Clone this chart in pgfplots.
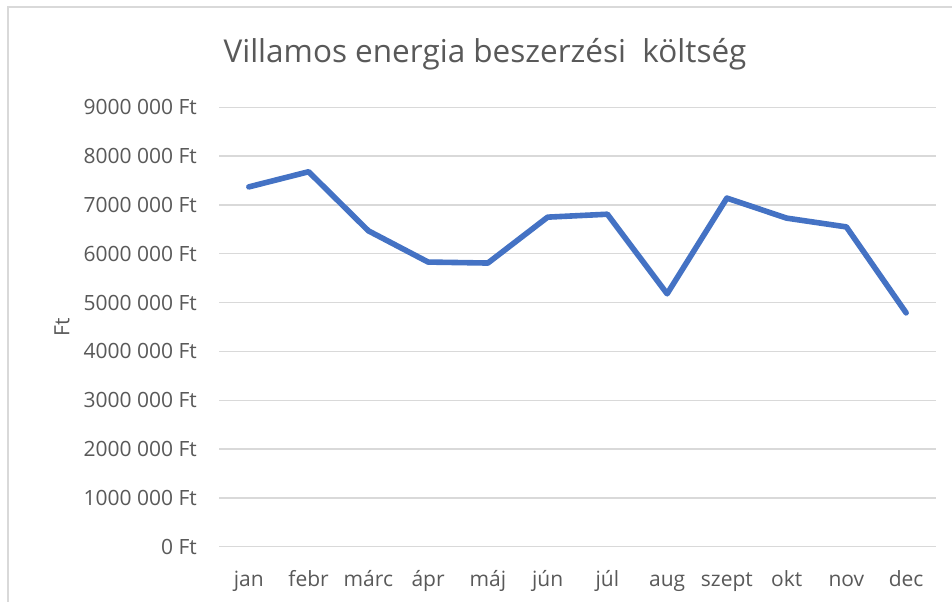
\documentclass[border=0pt]{standalone}
\usepackage{fontspec}
\setmainfont{Open Sans}
\usepackage{pgfplots}
\pgfplotsset{compat=1.18}
\definecolor{txt}{HTML}{595959}
\definecolor{grd}{HTML}{D9D9D9}
\definecolor{ln}{HTML}{4472C4}
\begin{document}
\begin{tikzpicture}
\useasboundingbox (0,0) rectangle (952bp,602bp);
\fill[white] (0,0) rectangle (952bp,602bp);
\draw[grd, line width=1.5bp] (8bp,0) -- (8bp,595bp) -- (952bp,595bp);
\node[anchor=base, text=txt, font=\fontsize{31.5bp}{36bp}\selectfont, inner sep=0] at (485bp,539bp) {Villamos energia beszerzési\ \ költség};
\begin{axis}[
  at={(219bp,55.3bp)}, anchor=south west,
  scale only axis, width=717bp, height=439.4bp,
  xmin=-0.5, xmax=11.5, ymin=0, ymax=9000000,
  axis line style={draw=none},
  major tick length=0,
  xtick={0,...,11},
  xticklabels={jan,febr,márc,ápr,máj,jún,júl,aug,szept,okt,nov,dec},
  ytick={0,1000000,2000000,3000000,4000000,5000000,6000000,7000000,8000000,9000000},
  yticklabels={0 Ft,1000 000 Ft,2000 000 Ft,3000 000 Ft,4000 000 Ft,5000 000 Ft,6000 000 Ft,7000 000 Ft,8000 000 Ft,9000 000 Ft},
  scaled y ticks=false,
  ymajorgrids, grid style={grd, line width=1.4bp},
  tick label style={text=txt, font=\fontsize{21bp}{24bp}\selectfont, inner sep=0},
  xticklabel style={anchor=base, yshift=-40bp},
  yticklabel style={anchor=east, xshift=-22bp},
  ylabel={Ft},
  every axis y label/.append style={at={(rel axis cs:-0.219,0.5)}, anchor=center, text=txt, font=\fontsize{21bp}{24bp}\selectfont},
  clip=false,
]
\addplot[ln, line width=5.6bp, line join=round, line cap=round] coordinates {
(0,7370000) (1,7680000) (2,6470000) (3,5830000) (4,5810000) (5,6750000)
(6,6810000) (7,5180000) (8,7140000) (9,6730000) (10,6550000) (11,4790000)
};
\end{axis}
\end{tikzpicture}
\end{document}
